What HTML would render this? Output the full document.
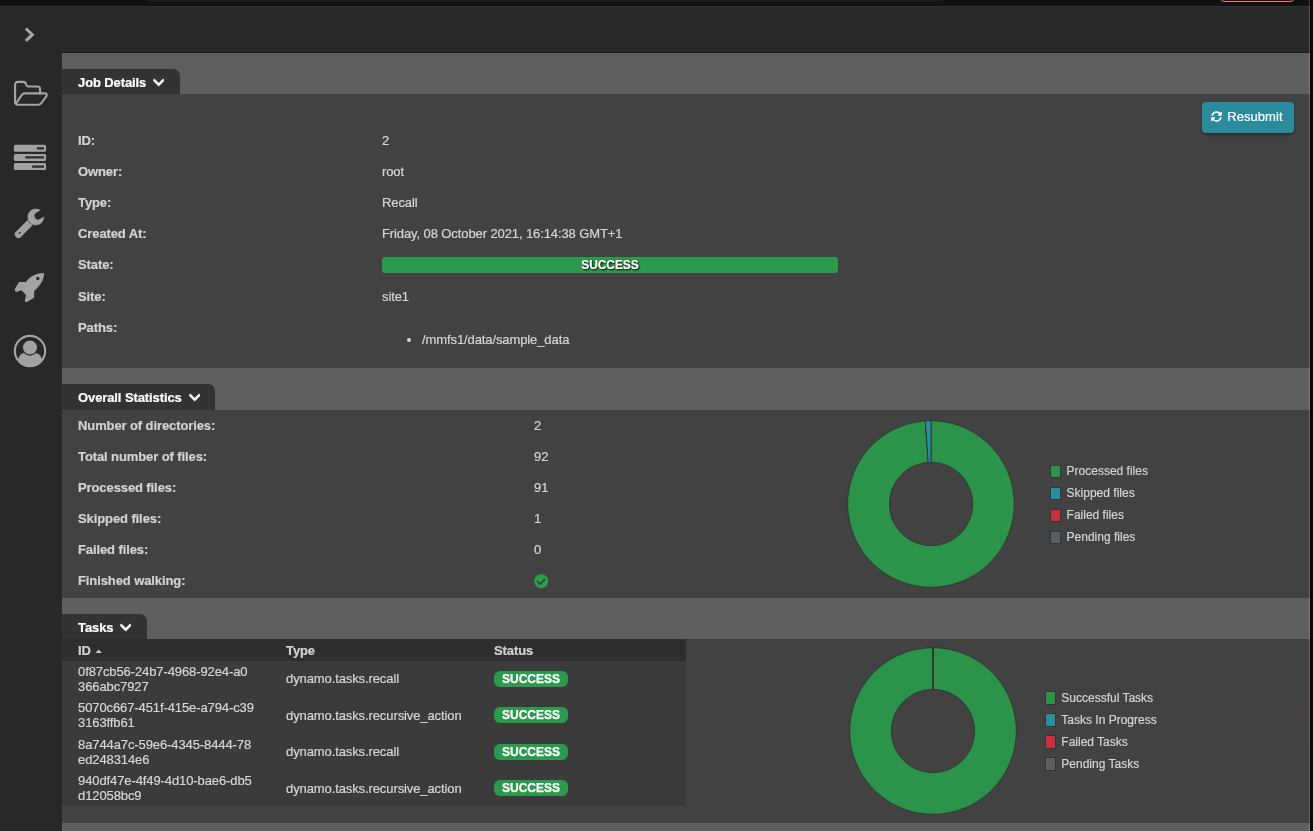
<!DOCTYPE html>
<html lang="en">
<head>
<meta charset="utf-8">
<title>Job Details</title>
<style>
  html, body { margin: 0; padding: 0; }
  body {
    width: 1313px; height: 831px; overflow: hidden; position: relative;
    background: #282828;
    font-family: "Liberation Sans", Arial, Helvetica, sans-serif;
    font-size: 13px; color: #d6d6d6; letter-spacing: -0.1px; -webkit-text-stroke: 0.2px currentColor;
  }
  /* browser chrome remnants */
  .chrome-top { position: absolute; left: 0; top: 0; width: 1313px; height: 6px; background: #111111; }
  .chrome-line { position: absolute; left: 0; top: 6px; width: 1310px; height: 1px; background: #323232; }
  .chrome-url { position: absolute; left: 145px; top: -10px; width: 800px; height: 12px; border-radius: 6px; background: #1b1b1b; }
  .chrome-pill { position: absolute; left: 1219px; top: -20px; width: 75px; height: 20px; border: 1.5px solid #e67d78; border-radius: 6px; box-sizing: content-box; }
  .edge-line { position: absolute; left: 1309px; top: 0; width: 1px; height: 831px; background: rgba(255,255,255,.19); }
  .edge-dark { position: absolute; left: 1310px; top: 0; width: 3px; height: 831px; background: linear-gradient(#190303 0, #190303 82%, #090d09 95%); }
  .edge-dark i { position: absolute; left: 0; top: 0; width: 1px; height: 831px; background: #050505; }

  /* sidebar */
  .sidebar { position: absolute; left: 0; top: 7px; width: 62px; height: 824px; background: #282828; }
  .sidebar svg { position: absolute; display: block; }

  /* main */
  .main { position: absolute; left: 62px; top: 52px; width: 1248px; height: 779px; background: #5f5f5f; }
  .main-top { position: absolute; left: 0; top: 0; width: 1248px; height: 1px; background: #181818; }
  .tab {
    position: absolute; left: 0; height: 25px; background: #333333; color: #ffffff;
    border-top-right-radius: 7px; font-weight: bold; line-height: 27px; padding-left: 16px; box-sizing: border-box;
    white-space: nowrap;
  }
  .tab svg { position: absolute; display: block; }
  .panel { position: absolute; left: 0; width: 1248px; background: #424242; }

  .row { position: absolute; left: 16px; height: 31px; line-height: 31px; white-space: nowrap; }
  .row b { color: #d2d2d2; font-weight: bold; }
  .val { position: absolute; height: 31px; line-height: 31px; white-space: nowrap; color: #d6d6d6; }

  .btn {
    position: absolute; left: 1140px; top: 8px; width: 92px; height: 31px; box-sizing: border-box;
    background: #2a8b9c; border: 0; border-radius: 4px; color: #ffffff; padding: 0; margin: 0;
    font-family: inherit; font-size: 13px; line-height: 31px; text-align: left;
    box-shadow: 0 2px 3px rgba(0,0,0,.35);
  }
  .btn svg { position: absolute; left: 9.3px; top: 9.2px; display: block; }
  .btn span { position: absolute; left: 25.3px; top: 0; height: 31px; line-height: 30px; letter-spacing: 0.05px; }
  .progress {
    position: absolute; left: 320px; top: 163px; width: 456px; height: 16px; border-radius: 3px;
    background: #2b9a4d; text-align: center; overflow: hidden;
  }
  .progress span { display: block; font-weight: bold; font-size: 12px; line-height: 17px; color: #ffffff; text-shadow: 1px 1px 2px #000, 0 0 1px rgba(0,0,0,.6); }
  .paths { position: absolute; left: 320px; top: 238px; margin: 0; padding: 0 0 0 40px; list-style: disc; line-height: 15px; }
  .paths li { padding: 0; }

  .main { will-change: transform; }
  .check, .donut { position: absolute; display: block; }
  .legend { position: absolute; margin: 0; padding: 0; list-style: none; font-size: 12px; color: #d4d4d4; letter-spacing: 0; }
  .legend li { position: relative; height: 22px; line-height: 22px; padding-left: 16.6px; white-space: nowrap; }
  .legend li i { position: absolute; left: 0; top: 4.2px; width: 9.4px; height: 11.3px; border: 1px solid #353535; display: block; }
  .legend.l2 li { padding-left: 16px; }
  .legend.l2 li i { width: 8.8px; }
  table.tasks { position: absolute; left: 0; top: 0; width: 624px; border-collapse: collapse; table-layout: fixed; }
  table.tasks th { height: 22px; padding: 1px 0 0 16px; box-sizing: border-box; background: #2e2e2e; color: #d2d2d2; text-align: left; font-weight: bold; line-height: 21px; }
  table.tasks td { height: 36.25px; padding: 0 0 0 16px; background: #3b3b3b; color: #d6d6d6; line-height: 15px; vertical-align: middle; box-sizing: border-box; }
  .badge { display: inline-block; width: 74px; height: 16px; border-radius: 6px; background: #2b9a4d; color: #fff; font-weight: bold; font-size: 12px; line-height: 16px; text-align: center; letter-spacing: 0; vertical-align: middle; position: relative; top: -0.4px; -webkit-text-stroke: 0.25px #fff; }
</style>
</head>
<body>
<div class="chrome-top"></div>
<div class="chrome-url"></div>
<div class="chrome-pill"></div>
<div class="chrome-line"></div>

<nav class="sidebar">
  <!-- expand chevron -->
  <svg style="left:20px;top:19px" width="18" height="18" viewBox="0 0 18 18"><path d="M5.8 2.5 L12.4 8.7 L5.8 14.9" fill="none" stroke="#a6a6a6" stroke-width="3" stroke-linejoin="miter" stroke-linecap="butt"/></svg>
  <!-- folder open -->
  <svg style="left:8px;top:65px" width="48" height="40" viewBox="0 0 48 40"><g fill="none" stroke="#a4a4a4" stroke-width="2.1" stroke-linejoin="round" stroke-linecap="round"><path d="M7.08 29.8 V12.6 a2.7 2.7 0 0 1 2.7 -2.73 H15.2 c1.6 0 2.4 0.9 2.8 2.3 c0.4 1.5 1.2 2.27 2.8 2.27 H29.4 a2.7 2.7 0 0 1 2.7 2.7 V21.38"/><path d="M8 31.5 L13.6 23.2 q1.25 -1.82 3.4 -1.82 H37.2 a1.65 1.65 0 0 1 1.38 2.57 L33.4 31 q-1.25 1.79 -3.4 1.79 H10.1 q-3.02 0 -3.02 -3"/></g></svg>
  <!-- server -->
  <svg style="left:13px;top:137px" width="35" height="28" viewBox="0 0 35 28"><g fill="#a2a2a2"><rect x="0.87" y="0.8" width="32.26" height="7" rx="1.6"/><rect x="0.87" y="9.9" width="32.26" height="7" rx="1.6"/><rect x="0.87" y="19.06" width="32.26" height="7.04" rx="1.6"/></g><g fill="#2c2c2c"><rect x="23.9" y="3.2" width="7.1" height="2.2" rx="0.3"/><rect x="12.3" y="12.3" width="18.7" height="2.2" rx="0.3"/><rect x="19.1" y="21.5" width="11.9" height="2.2" rx="0.3"/></g></svg>
  <!-- wrench -->
  <svg style="left:8px;top:193px" width="48" height="40" viewBox="0 0 48 40"><rect x="-3.6" y="-3.6" width="24" height="7.2" rx="3.1" transform="translate(10.5 34.3) rotate(-45)" fill="#a2a2a2"/><circle cx="27.8" cy="16.95" r="8.5" fill="#a2a2a2" stroke="#282828" stroke-width="0.5"/><path d="M30.1 15.9 L41.2 9.23" fill="none" stroke="#282828" stroke-width="7.1" stroke-linecap="round"/><circle cx="11.7" cy="32.9" r="0.95" fill="#282828"/></svg>
  <!-- rocket -->
  <svg style="left:8px;top:257px" width="48" height="40" viewBox="0 0 48 40"><path fill="#a2a2a2" d="M36.1 8.9 C30.5 8.9 25.6 10.6 21.7 13.7 C20.2 14.9 19 16.5 18.05 18.1 H11.7 Q10.9 18.1 10.5 18.8 L7 24.8 Q6.2 26.6 7.6 27.5 Q8.4 28 9.3 27.7 L13.5 26.2 L18.05 31.3 L16.85 36 Q16.6 37.5 17.9 38 Q18.6 38.2 19.4 37.7 L25.6 34 Q26.1 33.6 26.1 33 L26.2 27 C31.5 22.5 36.2 16 36.1 8.9 Z"/><circle cx="29.85" cy="14.45" r="1.7" fill="#282828"/></svg>
  <!-- user -->
  <svg style="left:12.07px;top:325.56px" width="36" height="36" viewBox="0 0 36 36"><defs><clipPath id="uc"><circle cx="18" cy="18" r="16"/></clipPath></defs><circle cx="18" cy="18" r="15.15" fill="none" stroke="#a4a4a4" stroke-width="2.1"/><path clip-path="url(#uc)" fill="#a2a2a2" d="M6.2 26.33 C6.93 22.48 9.82 20.07 12.7 20.07 H23.3 C26.18 20.07 29.07 22.48 29.8 26.33 V36 H6.2 z"/><circle cx="18" cy="14.53" r="7.55" fill="#a2a2a2" stroke="#282828" stroke-width="1.1"/></svg>
</nav>

<main class="main">
  <div class="main-top"></div>
  <!-- ===== Job Details ===== -->
  <div class="tab" style="top:17px;width:118px">Job Details<svg style="left:90.8px;top:7.05px" width="11.375" height="13" viewBox="0 0 448 512"><path fill="#ffffff" stroke="#ffffff" stroke-width="26" d="M207.029 381.476L12.686 187.132c-9.373-9.373-9.373-24.569 0-33.941l22.667-22.667c9.357-9.357 24.522-9.375 33.901-.04L224 284.505l154.745-154.021c9.379-9.335 24.544-9.317 33.901.04l22.667 22.667c9.373 9.373 9.373 24.569 0 33.941L240.971 381.476c-9.373 9.372-24.569 9.372-33.942 0z"/></svg></div>
  <section class="panel" style="top:42px;height:274px">
    <button class="btn" type="button"><svg width="11" height="11" viewBox="0 0 512 512"><path fill="#ffffff" d="M370.72 133.28C339.458 104.008 298.888 87.962 255.848 88c-77.458.068-144.328 53.178-162.791 126.85-1.344 5.363-6.122 9.15-11.651 9.15H24.103c-7.498 0-13.194-6.807-11.807-14.176C33.933 94.924 134.813 8 256 8c66.448 0 126.791 26.136 171.315 68.685L463.03 40.97C478.149 25.851 504 36.559 504 57.941V192c0 13.255-10.745 24-24 24H345.941c-21.382 0-32.09-25.851-16.971-40.971l41.75-41.749zM32 296h134.059c21.382 0 32.09 25.851 16.971 40.971l-41.75 41.75c31.262 29.273 71.835 45.319 114.876 45.28 77.418-.07 144.315-53.144 162.787-126.849 1.344-5.363 6.122-9.15 11.651-9.15h57.304c7.498 0 13.194 6.807 11.807 14.176C478.067 417.076 377.187 504 256 504c-66.448 0-126.791-26.136-171.315-68.685L48.97 471.03C33.851 486.149 8 475.441 8 454.059V320c0-13.255 10.745-24 24-24z"/></svg><span>Resubmit</span></button>
    <div class="row" style="top:30.5px"><b>ID:</b></div><div class="val" style="left:320px;top:30.5px">2</div>
    <div class="row" style="top:61.5px"><b>Owner:</b></div><div class="val" style="left:320px;top:61.5px">root</div>
    <div class="row" style="top:92.5px"><b>Type:</b></div><div class="val" style="left:320px;top:92.5px">Recall</div>
    <div class="row" style="top:123.5px"><b>Created At:</b></div><div class="val" style="left:320px;top:123.5px">Friday, 08 October 2021, 16:14:38 GMT+1</div>
    <div class="row" style="top:154.5px"><b>State:</b></div>
    <div class="progress"><span>SUCCESS</span></div>
    <div class="row" style="top:186.5px"><b>Site:</b></div><div class="val" style="left:320px;top:186.5px">site1</div>
    <div class="row" style="top:217.5px"><b>Paths:</b></div>
    <ul class="paths"><li>/mmfs1/data/sample_data</li></ul>
  </section>
  <!-- ===== Overall Statistics ===== -->
  <div class="tab" style="top:332px;width:153px;height:26px">Overall Statistics<svg style="left:126.8px;top:7.05px" width="11.375" height="13" viewBox="0 0 448 512"><path fill="#ffffff" stroke="#ffffff" stroke-width="26" d="M207.029 381.476L12.686 187.132c-9.373-9.373-9.373-24.569 0-33.941l22.667-22.667c9.357-9.357 24.522-9.375 33.901-.04L224 284.505l154.745-154.021c9.379-9.335 24.544-9.317 33.901.04l22.667 22.667c9.373 9.373 9.373 24.569 0 33.941L240.971 381.476c-9.373 9.372-24.569 9.372-33.942 0z"/></svg></div>
  <section class="panel" style="top:358px;height:188px">
    <div class="row" style="top:-0.5px"><b>Number of directories:</b></div><div class="val" style="left:472px;top:-0.5px">2</div>
    <div class="row" style="top:30.5px"><b>Total number of files:</b></div><div class="val" style="left:472px;top:30.5px">92</div>
    <div class="row" style="top:61.5px"><b>Processed files:</b></div><div class="val" style="left:472px;top:61.5px">91</div>
    <div class="row" style="top:92.5px"><b>Skipped files:</b></div><div class="val" style="left:472px;top:92.5px">1</div>
    <div class="row" style="top:123.5px"><b>Failed files:</b></div><div class="val" style="left:472px;top:123.5px">0</div>
    <div class="row" style="top:154.5px"><b>Finished walking:</b></div>
    <svg class="check" style="left:471.75px;top:163.95px" width="14.5" height="14.5" viewBox="0 0 512 512"><path fill="#2a9f4b" d="M504 256c0 136.967-111.033 248-248 248S8 392.967 8 256 119.033 8 256 8s248 111.033 248 248zM227.314 387.314l184-184c6.248-6.248 6.248-16.379 0-22.627l-22.627-22.627c-6.248-6.249-16.379-6.249-22.628 0L216 308.118l-70.059-70.059c-6.248-6.248-16.379-6.248-22.628 0l-22.627 22.627c-6.248 6.248-6.248 16.379 0 22.627l104 104c6.249 6.249 16.379 6.249 22.628.001z"/></svg>
    <svg class="donut" style="left:769.3px;top:-6.5px" width="200" height="200" viewBox="0 0 200 200"><g stroke="#2f3a33" stroke-width="1" stroke-linejoin="round"><path fill="#2b934a" d="M100.00 16.70 A83.3 83.3 0 1 1 94.32 16.89 L97.16 58.50 A41.6 41.6 0 1 0 100.00 58.40 Z"/><path fill="#2a8ea0" d="M94.32 16.89 A83.3 83.3 0 0 1 100.00 16.70 L100.00 58.40 A41.6 41.6 0 0 0 97.16 58.50 Z"/></g></svg>
    <ul class="legend" style="left:988px;top:50.4px">
      <li><i style="background:#2b934a"></i>Processed files</li>
      <li><i style="background:#2a8ea0"></i>Skipped files</li>
      <li><i style="background:#c9303f"></i>Failed files</li>
      <li><i style="background:#5a5f66"></i>Pending files</li>
    </ul>
  </section>
  <!-- ===== Tasks ===== -->
  <div class="tab" style="top:562px;width:85px">Tasks<svg style="left:58px;top:7.05px" width="11.375" height="13" viewBox="0 0 448 512"><path fill="#ffffff" stroke="#ffffff" stroke-width="26" d="M207.029 381.476L12.686 187.132c-9.373-9.373-9.373-24.569 0-33.941l22.667-22.667c9.357-9.357 24.522-9.375 33.901-.04L224 284.505l154.745-154.021c9.379-9.335 24.544-9.317 33.901.04l22.667 22.667c9.373 9.373 9.373 24.569 0 33.941L240.971 381.476c-9.373 9.372-24.569 9.372-33.942 0z"/></svg></div>
  <section class="panel" style="top:587px;height:184px">
    <table class="tasks">
      <thead><tr><th>ID<svg width="7.3" height="4.4" viewBox="0 0 8 5" preserveAspectRatio="none" style="margin-left:4px;vertical-align:1.6px"><path d="M0 5 L4 0.6 L8 5 Z" fill="#c8c8c8"/></svg></th><th>Type</th><th>Status</th></tr></thead>
      <tbody>
        <tr><td>0f87cb56-24b7-4968-92e4-a0<br>366abc7927</td><td style="padding-bottom:2px">dynamo.tasks.recall</td><td><span class="badge">SUCCESS</span></td></tr>
        <tr><td>5070c667-451f-415e-a794-c39<br>3163ffb61</td><td>dynamo.tasks.recursive_action</td><td><span class="badge">SUCCESS</span></td></tr>
        <tr><td>8a744a7c-59e6-4345-8444-78<br>ed248314e6</td><td>dynamo.tasks.recall</td><td><span class="badge">SUCCESS</span></td></tr>
        <tr><td>940df47e-4f49-4d10-bae6-db5<br>d12058bc9</td><td style="padding-top:1.6px">dynamo.tasks.recursive_action</td><td><span class="badge">SUCCESS</span></td></tr>
      </tbody>
    </table>
    <svg class="donut" style="left:770.8px;top:-8.5px" width="200" height="200" viewBox="0 0 200 200"><g stroke="#2f3a33" stroke-width="1" stroke-linejoin="round"><path fill="#2b934a" d="M100.00 16.70 A83.3 83.3 0 1 1 99.99 16.70 L99.99 58.40 A41.6 41.6 0 1 0 100.00 58.40 Z"/></g><path d="M100 16.7 V58.4" stroke="#27332b" stroke-width="1.3"/></svg>
    <ul class="legend l2" style="left:983.3px;top:48.1px">
      <li><i style="background:#2b934a"></i>Successful Tasks</li>
      <li><i style="background:#2a8ea0"></i>Tasks In Progress</li>
      <li><i style="background:#c9303f"></i>Failed Tasks</li>
      <li><i style="background:#5a5f66"></i>Pending Tasks</li>
    </ul>
  </section>
</main>

<div class="edge-line"></div>
<div class="edge-dark"><i></i></div>
</body>
</html>
